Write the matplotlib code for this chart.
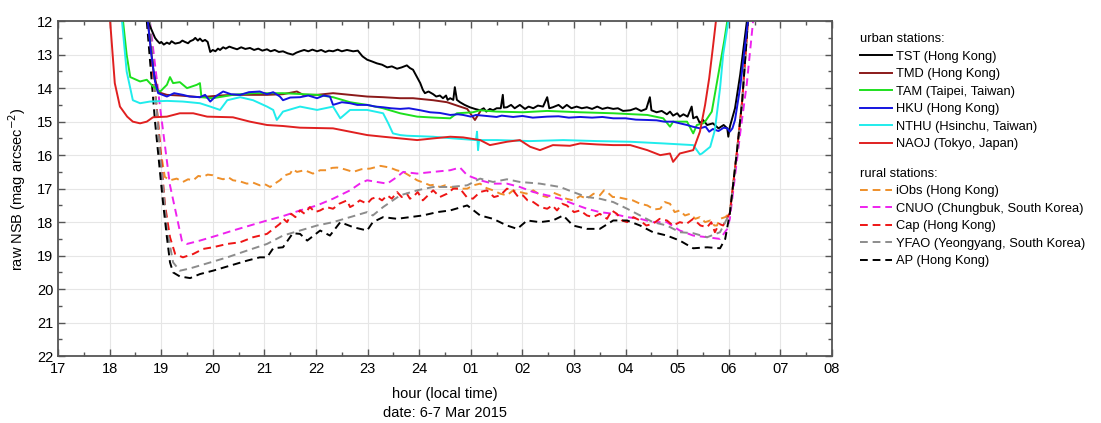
# Night sky brightness, 6-7 Mar 2015, urban vs rural stations
import matplotlib; matplotlib.use("Agg")
import matplotlib.pyplot as plt
from matplotlib.ticker import MultipleLocator

plt.rcParams["font.family"] = ["Liberation Sans", "DejaVu Sans"]

# hours after 17:00 on 6 Mar (24 = midnight, 25 = 01 ...); values in mag arcsec^-2
tst_h = [18.74, 18.88, 18.92, 18.97, 19.00, 19.05, 19.11, 19.16, 19.20, 19.27, 19.36, 19.41, 19.46, 19.52,
         19.56, 19.62, 19.66, 19.71, 19.75, 19.80, 19.85, 19.90, 19.95, 20.00, 20.05, 20.10, 20.14, 20.20,
         20.25, 20.32, 20.39, 20.47, 20.55, 20.63, 20.72, 20.80, 20.88, 20.96, 21.05, 21.12, 21.20, 21.28,
         21.36, 21.45, 21.55, 21.62, 21.69, 21.77, 21.85, 21.93, 22.02, 22.10, 22.18, 22.25, 22.33, 22.42,
         22.50, 22.60, 22.72, 22.81, 22.90, 22.99, 23.08, 23.18, 23.28, 23.38, 23.47, 23.57, 23.66, 23.76,
         23.82, 23.88, 23.95, 24.02, 24.07, 24.11, 24.18, 24.27, 24.33, 24.40, 24.46, 24.52, 24.55, 24.60,
         24.66, 24.69, 24.73, 24.79, 24.88, 24.98, 25.08, 25.18, 25.25, 25.30, 25.37, 25.43, 25.50, 25.58,
         25.62, 25.64, 25.70, 25.78, 25.85, 25.95, 26.05, 26.12, 26.21, 26.30, 26.40, 26.48, 26.52, 26.59,
         26.70, 26.78, 26.86, 26.95, 27.05, 27.15, 27.25, 27.35, 27.45, 27.55, 27.65, 27.76, 27.85, 27.95,
         28.09, 28.20, 28.30, 28.40, 28.47, 28.50, 28.60, 28.70, 28.80, 28.86, 28.92, 29.00, 29.05, 29.12,
         29.20, 29.28, 29.31, 29.38, 29.44, 29.50, 29.58, 29.69, 29.80, 29.90, 29.97, 29.99, 30.02, 30.12,
         30.22, 30.35]
tst = [12.0, 12.5, 12.58, 12.66, 12.62, 12.7, 12.64, 12.68, 12.6, 12.67, 12.64, 12.58, 12.62, 12.66,
       12.6, 12.56, 12.5, 12.58, 12.52, 12.6, 12.56, 12.62, 12.92, 12.86, 12.9, 12.82, 12.86, 12.78,
       12.82, 12.76, 12.8, 12.84, 12.78, 12.83, 12.8, 12.86, 12.82, 12.88, 12.84, 12.9, 12.86, 12.92,
       12.9, 12.96, 13.0, 12.94, 12.9, 12.86, 12.9, 12.85, 12.9, 12.86, 12.92, 12.88, 12.9, 12.85,
       12.9, 12.86, 12.9, 12.88, 13.05, 13.15, 13.2, 13.26, 13.3, 13.38, 13.35, 13.42, 13.38, 13.32,
       13.4, 13.45, 13.65, 13.85, 14.05, 14.15, 14.1, 14.18, 14.25, 14.22, 14.3, 14.22, 14.35, 14.3,
       14.35, 13.97, 14.35, 14.42, 14.5, 14.57, 14.62, 14.66, 14.6, 14.7, 14.62, 14.66, 14.6, 14.6,
       14.2, 14.58, 14.57, 14.5, 14.6, 14.5, 14.62, 14.55, 14.6, 14.52, 14.55, 14.27, 14.6, 14.57,
       14.5, 14.6, 14.5, 14.6, 14.55, 14.6, 14.57, 14.62, 14.55, 14.62, 14.58, 14.62, 14.6, 14.68,
       14.66, 14.6, 14.68, 14.62, 14.27, 14.66, 14.72, 14.68, 14.78, 14.7, 14.82, 14.75, 14.85, 14.78,
       14.85, 14.55, 14.9, 14.85, 15.05, 14.95, 15.1, 15.05, 15.2, 15.1, 15.2, 15.45, 15.15, 14.6,
       13.6, 12.0]

tmd_h = [18.74, 18.85, 18.94, 19.11, 19.36, 19.75, 20.14, 20.39, 20.72, 21.05, 21.36, 21.63, 21.75,
         22.02, 22.33, 22.66, 22.99, 23.30, 23.63, 23.88, 24.27, 24.54, 24.79, 24.93, 25.08, 25.18]
tmd = [12.0, 13.5, 14.12, 14.2, 14.22, 14.27, 14.22, 14.2, 14.2, 14.2, 14.18, 14.1, 14.2,
       14.2, 14.15, 14.2, 14.25, 14.27, 14.3, 14.3, 14.36, 14.42, 14.55, 14.62, 14.95, 14.7]

tam_h = [18.26, 18.33, 18.40, 18.59, 18.72, 18.84, 18.98, 19.11, 19.17, 19.23, 19.36, 19.50, 19.69,
         19.75, 19.78, 20.00, 20.39, 20.78, 21.36, 22.02, 22.33, 22.66, 22.99, 23.30, 23.63, 23.96,
         24.30, 24.60, 24.73, 25.04, 25.18, 25.50, 26.01, 26.48, 27.12, 27.76, 28.42, 28.73, 28.86,
         28.92, 29.19, 29.31, 29.38, 29.50, 29.54, 29.67, 29.75, 29.83, 29.91, 29.97]
tam = [12.0, 13.0, 13.67, 13.8, 13.75, 13.95, 14.1, 13.9, 13.67, 13.85, 13.82, 14.0, 13.9,
       13.85, 14.27, 14.3, 14.2, 14.15, 14.15, 14.2, 14.27, 14.42, 14.5, 14.6, 14.75, 14.85,
       14.88, 14.9, 14.75, 14.72, 14.66, 14.7, 14.72, 14.68, 14.72, 14.75, 14.8, 14.9, 15.15,
       15.0, 15.0, 15.35, 15.1, 15.05, 15.0, 14.7, 14.0, 13.3, 12.6, 12.0]

hku_h = [18.74, 18.80, 18.88, 18.94, 19.11, 19.25, 19.42, 19.55, 19.75, 19.85, 19.95, 20.05, 20.20,
         20.35, 20.53, 20.70, 20.91, 21.05, 21.17, 21.30, 21.36, 21.50, 21.69, 21.85, 22.02, 22.15,
         22.27, 22.33, 22.50, 22.66, 22.80, 22.99, 23.15, 23.30, 23.45, 23.63, 23.80, 24.02, 24.21,
         24.40, 24.60, 24.75, 24.85, 25.00, 25.10, 25.30, 25.50, 25.60, 25.82, 26.00, 26.20, 26.48,
         26.70, 26.90, 27.12, 27.35, 27.55, 27.76, 28.00, 28.20, 28.42, 28.60, 28.75, 28.92, 29.05,
         29.19, 29.30, 29.44, 29.55, 29.62, 29.69, 29.80, 29.90, 29.97, 30.02, 30.07, 30.12, 30.22,
         30.31, 30.37]
hku = [12.0, 12.9, 13.8, 14.15, 14.25, 14.15, 14.2, 14.25, 14.27, 14.2, 14.4, 14.25, 14.1,
       14.18, 14.2, 14.12, 14.1, 14.18, 14.12, 14.25, 14.36, 14.28, 14.27, 14.22, 14.3, 14.22,
       14.25, 14.5, 14.42, 14.45, 14.5, 14.5, 14.55, 14.57, 14.6, 14.62, 14.6, 14.66, 14.72,
       14.74, 14.8, 14.78, 14.8, 14.85, 14.8, 14.83, 14.86, 14.82, 14.86, 14.83, 14.88, 14.85,
       14.84, 14.88, 14.86, 14.88, 14.86, 14.9, 14.9, 14.94, 14.95, 14.96, 15.0, 15.0, 15.05,
       15.1, 15.15, 15.2, 15.15, 15.3, 15.22, 15.28, 15.18, 15.2, 15.3, 15.2, 14.95, 13.97,
       12.78, 12.0]

nthu_h = [18.24, 18.33, 18.45, 18.59, 18.78, 19.11, 19.42, 19.75, 19.95, 20.14, 20.28, 20.53, 20.78,
          21.05, 21.17, 21.24, 21.36, 21.69, 22.02, 22.33, 22.47, 22.66, 22.99, 23.30, 23.40, 23.49,
          23.63, 23.76, 24.27, 24.66, 25.10, 25.12, 25.14, 25.16, 25.51, 26.15, 26.79, 27.45, 28.09,
          28.73, 29.31, 29.44, 29.48, 29.64, 29.73, 29.83, 29.89, 29.99]
nthu = [12.0, 13.5, 14.36, 14.45, 14.4, 14.38, 14.4, 14.45, 14.55, 14.65, 14.36, 14.27, 14.36,
        14.55, 14.65, 14.95, 14.7, 14.55, 14.65, 14.55, 14.9, 14.65, 14.65, 14.75, 15.05, 15.35,
        15.4, 15.42, 15.45, 15.5, 15.55, 15.3, 15.85, 15.55, 15.55, 15.58, 15.55, 15.58, 15.6,
        15.65, 15.7, 15.98, 15.95, 15.75, 15.25, 14.0, 13.0, 12.0]

naoj_h = [18.01, 18.10, 18.20, 18.34, 18.45, 18.59, 18.72, 18.84, 19.11, 19.36, 19.62, 19.89, 20.39,
          20.72, 21.05, 21.36, 21.69, 22.33, 22.66, 22.99, 23.30, 23.63, 23.96, 24.27, 24.60, 24.85,
          25.18, 25.37, 25.70, 25.95, 26.15, 26.34, 26.59, 26.92, 27.12, 27.45, 27.76, 28.09, 28.42,
          28.67, 28.86, 28.92, 29.05, 29.31, 29.44, 29.54, 29.62, 29.69, 29.75]
naoj = [12.0, 13.85, 14.55, 14.85, 15.0, 15.05, 15.0, 14.87, 14.85, 14.75, 14.75, 14.85, 14.87,
        15.0, 15.1, 15.13, 15.18, 15.2, 15.3, 15.4, 15.45, 15.5, 15.55, 15.5, 15.45, 15.47,
        15.55, 15.7, 15.6, 15.55, 15.75, 15.85, 15.7, 15.72, 15.65, 15.68, 15.7, 15.7, 15.85,
        16.0, 15.95, 16.2, 15.95, 15.85, 15.3, 14.5, 13.7, 12.8, 12.0]

iobs_h = [18.74, 18.88, 18.98, 19.07, 19.17, 19.30, 19.42, 19.52, 19.62, 19.72, 19.81, 19.90, 20.00,
          20.10, 20.20, 20.30, 20.39, 20.52, 20.66, 20.78, 20.91, 21.00, 21.11, 21.20, 21.30, 21.40,
          21.50, 21.55, 21.63, 21.78, 21.94, 22.08, 22.21, 22.31, 22.41, 22.55, 22.72, 22.88, 23.05,
          23.25, 23.43, 23.56, 23.69, 23.82, 23.96, 24.08, 24.21, 24.30, 24.40, 24.50, 24.60, 24.76,
          24.93, 25.05, 25.18, 25.30, 25.43, 25.57, 25.70, 25.82, 25.95, 26.08, 26.21, 26.35, 26.48,
          26.60, 26.73, 26.85, 26.98, 27.12, 27.25, 27.38, 27.50, 27.58, 27.64, 27.75, 27.83, 27.98,
          28.14, 28.28, 28.42, 28.55, 28.67, 28.76, 28.86, 28.95, 29.05, 29.15, 29.25, 29.35, 29.44,
          29.54, 29.64, 29.72, 29.77, 29.83, 29.93, 30.02, 30.16, 30.26, 30.37]
iobs = [12.0, 14.0, 15.8, 16.65, 16.75, 16.7, 16.8, 16.72, 16.75, 16.62, 16.65, 16.58, 16.6,
        16.68, 16.72, 16.66, 16.75, 16.78, 16.85, 16.82, 16.9, 16.86, 16.95, 16.85, 16.75, 16.6,
        16.55, 16.42, 16.5, 16.45, 16.55, 16.45, 16.45, 16.38, 16.37, 16.42, 16.5, 16.42, 16.4,
        16.32, 16.37, 16.45, 16.5, 16.62, 16.75, 16.82, 16.9, 16.88, 16.95, 16.9, 16.95, 17.0,
        17.0, 16.9, 16.85, 16.98, 17.05, 17.15, 17.2, 17.05, 17.1, 17.15, 17.05, 17.2, 17.25,
        17.12, 17.2, 17.3, 17.35, 17.22, 17.3, 17.15, 17.2, 17.05, 17.1, 17.25, 17.25, 17.3,
        17.35, 17.45, 17.5, 17.62, 17.6, 17.4, 17.45, 17.7, 17.65, 17.8, 17.75, 17.9, 17.85,
        18.0, 17.95, 18.1, 18.1, 17.9, 17.85, 17.73, 15.85, 14.36, 12.0]

cnuo_h = [18.78, 18.98, 19.17, 19.31, 19.40, 19.50, 19.75, 20.08, 20.39, 20.72, 21.05, 21.36, 21.69,
          22.02, 22.33, 22.66, 22.85, 22.99, 23.18, 23.38, 23.57, 23.69, 23.96, 24.27, 24.60, 24.79,
          24.93, 25.18, 25.43, 25.70, 25.95, 26.21, 26.48, 26.73, 26.98, 27.25, 27.50, 27.76, 28.03,
          28.28, 28.53, 28.80, 29.05, 29.31, 29.58, 29.83, 29.97, 30.02, 30.22, 30.35, 30.47]
cnuo = [12.0, 14.6, 16.9, 17.9, 18.55, 18.65, 18.55, 18.4, 18.25, 18.1, 17.95, 17.82, 17.65,
        17.5, 17.3, 17.05, 16.85, 16.75, 16.8, 16.85, 16.65, 16.5, 16.55, 16.5, 16.45, 16.37,
        16.6, 16.75, 16.85, 16.85, 16.95, 17.1, 17.2, 17.3, 17.45, 17.6, 17.7, 17.75, 17.85,
        17.9, 18.0, 18.0, 18.25, 18.4, 18.45, 18.5, 18.2, 17.9, 15.35, 13.85, 12.0]

cap_h = [18.74, 18.94, 19.07, 19.17, 19.27, 19.42, 19.62, 19.81, 20.00, 20.28, 20.53, 20.78, 21.05,
         21.30, 21.37, 21.44, 21.52, 21.60, 21.69, 21.78, 21.88, 21.98, 22.08, 22.20, 22.33, 22.45,
         22.60, 22.66, 22.72, 22.85, 22.99, 23.08, 23.18, 23.28, 23.38, 23.47, 23.57, 23.66, 23.76,
         23.82, 23.88, 23.97, 24.07, 24.17, 24.27, 24.40, 24.54, 24.66, 24.79, 24.92, 25.04, 25.18,
         25.31, 25.45, 25.57, 25.70, 25.82, 25.92, 26.01, 26.10, 26.21, 26.35, 26.48, 26.58, 26.67,
         26.77, 26.86, 27.00, 27.12, 27.25, 27.37, 27.50, 27.64, 27.73, 27.83, 27.93, 28.03, 28.15,
         28.28, 28.40, 28.53, 28.66, 28.80, 28.92, 29.05, 29.18, 29.31, 29.45, 29.58, 29.66, 29.73,
         29.81, 29.89, 30.02, 30.16, 30.26, 30.37]
cap = [12.0, 15.0, 17.45, 18.45, 18.95, 19.05, 18.95, 18.8, 18.75, 18.65, 18.6, 18.45, 18.35,
       18.05, 17.9, 18.0, 17.75, 17.85, 17.65, 17.75, 17.55, 17.7, 17.65, 17.55, 17.6, 17.45,
       17.35, 17.55, 17.5, 17.35, 17.45, 17.3, 17.25, 17.35, 17.2, 17.3, 17.1, 17.25, 17.15,
       17.3, 17.25, 17.1, 17.35, 17.2, 17.05, 17.25, 17.15, 17.0, 17.0, 17.25, 17.3, 17.1,
       17.05, 17.25, 17.2, 17.0, 17.05, 17.25, 17.2, 17.35, 17.4, 17.55, 17.6, 17.5, 17.65,
       17.45, 17.5, 17.7, 17.65, 17.8, 17.85, 17.75, 17.9, 17.65, 17.75, 17.95, 18.0, 17.85,
       17.95, 18.1, 18.05, 17.9, 17.95, 18.1, 18.0, 18.05, 17.9, 18.1, 18.15, 18.0, 18.3,
       18.05, 18.1, 17.73, 15.85, 14.36, 12.0]

yfao_h = [18.78, 18.98, 19.11, 19.23, 19.36, 19.56, 19.89, 20.28, 20.66, 21.05, 21.36, 21.69, 22.02,
          22.33, 22.66, 22.99, 23.10, 23.30, 23.63, 23.96, 24.27, 24.60, 24.93, 25.18, 25.43, 25.70,
          25.95, 26.34, 26.73, 26.98, 27.25, 27.50, 27.76, 28.03, 28.28, 28.53, 28.80, 29.05, 29.31,
          29.58, 29.83, 30.02, 30.16, 30.26, 30.37]
yfao = [12.0, 16.0, 18.2, 19.2, 19.45, 19.38, 19.23, 19.05, 18.85, 18.65, 18.4, 18.25, 18.1,
        18.0, 17.85, 17.7, 17.8, 17.55, 17.2, 17.05, 16.95, 16.95, 16.9, 16.7, 16.8, 16.72,
        16.8, 16.85, 16.95, 17.1, 17.25, 17.3, 17.4, 17.6, 17.8, 18.0, 18.1, 18.3, 18.33,
        18.45, 18.3, 17.73, 15.85, 14.36, 12.0]

ap_h = [18.72, 18.88, 19.03, 19.11, 19.17, 19.23, 19.36, 19.56, 19.75, 20.00, 20.33, 20.66, 20.91,
        21.05, 21.17, 21.36, 21.55, 21.69, 21.83, 22.08, 22.27, 22.47, 22.72, 22.99, 23.10, 23.30,
        23.57, 23.82, 24.07, 24.35, 24.60, 24.93, 25.18, 25.43, 25.70, 25.90, 26.09, 26.34, 26.59,
        26.79, 26.98, 27.25, 27.50, 27.76, 28.03, 28.28, 28.53, 28.80, 29.05, 29.31, 29.58, 29.83,
        29.93, 30.02, 30.16, 30.26, 30.37]
ap = [12.0, 15.0, 17.35, 18.45, 19.2, 19.5, 19.62, 19.67, 19.55, 19.45, 19.3, 19.15, 19.05,
      19.05, 18.78, 18.75, 18.33, 18.35, 18.55, 18.25, 18.4, 18.0, 18.15, 18.25, 18.0, 17.85,
      17.9, 17.85, 17.8, 17.7, 17.65, 17.5, 17.8, 17.9, 18.1, 18.2, 17.95, 18.0, 17.95,
      17.8, 18.1, 18.2, 18.2, 17.95, 17.95, 18.1, 18.3, 18.4, 18.55, 18.78, 18.75, 18.78,
      18.5, 17.73, 15.85, 14.36, 12.0]

hour_ticks = list(range(17, 33))
hour_labels = ["17", "18", "19", "20", "21", "22", "23", "24",
               "01", "02", "03", "04", "05", "06", "07", "08"]

urban = [("TST (Hong Kong)", tst_h, tst, "#000000"),
         ("TMD (Hong Kong)", tmd_h, tmd, "#8b1a1a"),
         ("TAM (Taipei, Taiwan)", tam_h, tam, "#1ee01e"),
         ("HKU (Hong Kong)", hku_h, hku, "#1414e0"),
         ("NTHU (Hsinchu, Taiwan)", nthu_h, nthu, "#20ecec"),
         ("NAOJ (Tokyo, Japan)", naoj_h, naoj, "#e02020")]
rural = [("iObs (Hong Kong)", iobs_h, iobs, "#ee8f2a"),
         ("CNUO (Chungbuk, South Korea)", cnuo_h, cnuo, "#ee22ee"),
         ("Cap (Hong Kong)", cap_h, cap, "#ee1515"),
         ("YFAO (Yeongyang, South Korea)", yfao_h, yfao, "#8c8c8c"),
         ("AP (Hong Kong)", ap_h, ap, "#000000")]

fig = plt.figure(figsize=(11.01, 4.23), dpi=100)
ax = fig.add_axes([0.0527, 0.158, 0.703, 0.792])

rural_lines = []
for name, h, v, c in rural:
    ln, = ax.plot(h, v, color=c, lw=1.4, ls=(0, (4, 2.5)), label=name)
    rural_lines.append(ln)
urban_lines = []
for name, h, v, c in urban:
    ln, = ax.plot(h, v, color=c, lw=1.4, label=name)
    urban_lines.append(ln)

ax.set_xlim(17, 32)
ax.set_ylim(22, 12)
ax.set_xticks(hour_ticks)
ax.set_xticklabels(hour_labels)
ax.set_yticks(range(12, 23))
ax.xaxis.set_minor_locator(MultipleLocator(0.5))
ax.yaxis.set_minor_locator(MultipleLocator(0.5))
ax.tick_params(which="both", direction="in", top=True, right=True, labelsize=10.5, color="#555555")
ax.tick_params(which="major", length=5, width=1)
ax.tick_params(which="minor", length=3, width=1)
ax.tick_params(axis="x", pad=4)
for s in ax.spines.values():
    s.set_color("#555555"); s.set_linewidth(1.3)
ax.grid(True, which="major", color="#e6e6e6", lw=0.8)
ax.set_axisbelow(True)
ax.set_ylabel("raw NSB (mag arcsec$^{-2}$)", fontsize=10.5, labelpad=6)
ax.set_xlabel("hour (local time)\ndate: 6-7 Mar 2015", fontsize=10.5, labelpad=8, linespacing=1.5)

leg_kw = dict(frameon=False, fontsize=9.3, title_fontsize=9.3, alignment="left", handlelength=2.5,
              handletextpad=0.3, labelspacing=0.42, borderaxespad=0, borderpad=0)
leg1 = fig.legend(urban_lines, [u[0] for u in urban], title="urban stations:",
                  loc="upper left", bbox_to_anchor=(0.781, 0.921), **leg_kw)
leg2 = fig.legend(rural_lines, [r[0] for r in rural], title="rural stations:",
                  loc="upper left", bbox_to_anchor=(0.781, 0.603), **leg_kw)

fig.savefig("out.png", dpi=100)
